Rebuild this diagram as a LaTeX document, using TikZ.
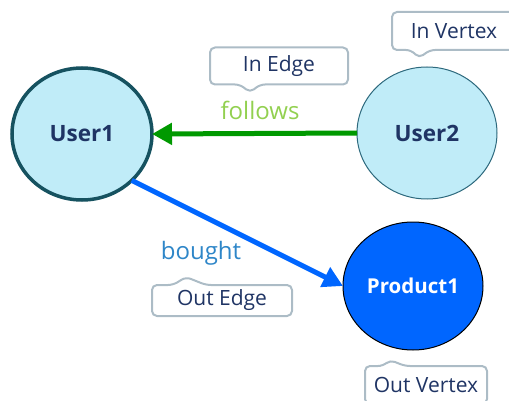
\documentclass[tikz,border=0pt]{standalone}
\usepackage{fontspec}
\setmainfont{Open Sans}
\usetikzlibrary{shapes.geometric,arrows.meta}
\definecolor{vfill}{RGB}{192,236,248}
\definecolor{vring}{RGB}{22,82,96}
\definecolor{vringthin}{RGB}{45,105,125}
\definecolor{navy}{RGB}{31,52,100}
\definecolor{prod}{RGB}{0,102,255}
\definecolor{folg}{RGB}{0,153,0}
\definecolor{follab}{RGB}{146,208,80}
\definecolor{boughtlab}{RGB}{46,134,200}
\definecolor{callline}{RGB}{172,188,198}
\begin{document}
\begin{tikzpicture}[x=1pt,y=-1pt,
  vertex/.style={ellipse, minimum width=140pt, minimum height=132pt,
    inner sep=0pt, outer sep=0pt, font=\fontsize{22.5}{26}\selectfont\bfseries},
  callnode/.style={inner sep=0pt, outer sep=0pt, text=navy,
    font=\fontsize{21}{25}\selectfont},
  callbox/.style={draw=callline, line width=2pt, rounded corners=5pt},
  edgelab/.style={inner sep=0pt, font=\fontsize{24}{28}\selectfont},
  link/.style={line width=5pt, -{Triangle[length=20pt,width=21pt]}}]
\clip (0,0) rectangle (509,401);
\useasboundingbox (0,0) rectangle (509,401);

% vertices
\node[vertex, draw=vring, line width=3.5pt, fill=vfill, text=navy] (u1) at (82,134) {User1};
\node[vertex, draw=vringthin, line width=1pt, fill=vfill, text=navy] (u2) at (427,133) {User2};
\node[vertex, minimum height=128pt, draw=black, line width=1pt, fill=prod, text=white,
      font=\fontsize{20.5}{24}\selectfont\bfseries] (p1) at (413,286) {Product1};

% edges
\draw[link, draw=folg, fill=folg] (u2.west) -- (u1.east);
\draw[link, draw=prod, fill=prod] (u1.-43) -- (p1.west);

% edge labels
\node[edgelab, text=follab] (lf) at (260,110) {follows};
\node[edgelab, text=boughtlab] (lb) at (201,253) {bought};

% callouts
\node[callnode, minimum width=124pt, minimum height=38pt] (ivx) at (454,31) {In Vertex};
\draw[callbox] (ivx.north west) -- (ivx.north east) -- (ivx.south east)
  -- ([xshift=38pt]ivx.south west) -- ++(-11,8) -- ++(-8,-8) -- (ivx.south west) -- cycle;

\node[callnode, minimum width=138pt, minimum height=37pt] (ied) at (279,66) {In Edge};
\draw[callbox] (ied.north west) -- (ied.north east) -- (ied.south east)
  -- ([xshift=50pt]ied.south west) -- ++(-10,8) -- ++(-10,-8) -- (ied.south west) -- cycle;

\node[callnode, minimum width=140pt, minimum height=31pt] (oed) at (222,300.5) {Out Edge};
\draw[callbox] (oed.south west) -- (oed.north west) -- ([xshift=21pt]oed.north west)
  -- ++(13,-8) -- ++(20,8) -- (oed.north east) -- (oed.south east) -- cycle;

\node[callnode, minimum width=122pt, minimum height=38pt] (ovx) at (426,385) {Out Vertex};
\draw[callbox] (ovx.south west) -- (ovx.north west) -- ([xshift=18pt]ovx.north west)
  -- ++(7,-6) -- ++(15,6) -- (ovx.north east) -- (ovx.south east) -- cycle;
\end{tikzpicture}
\end{document}
